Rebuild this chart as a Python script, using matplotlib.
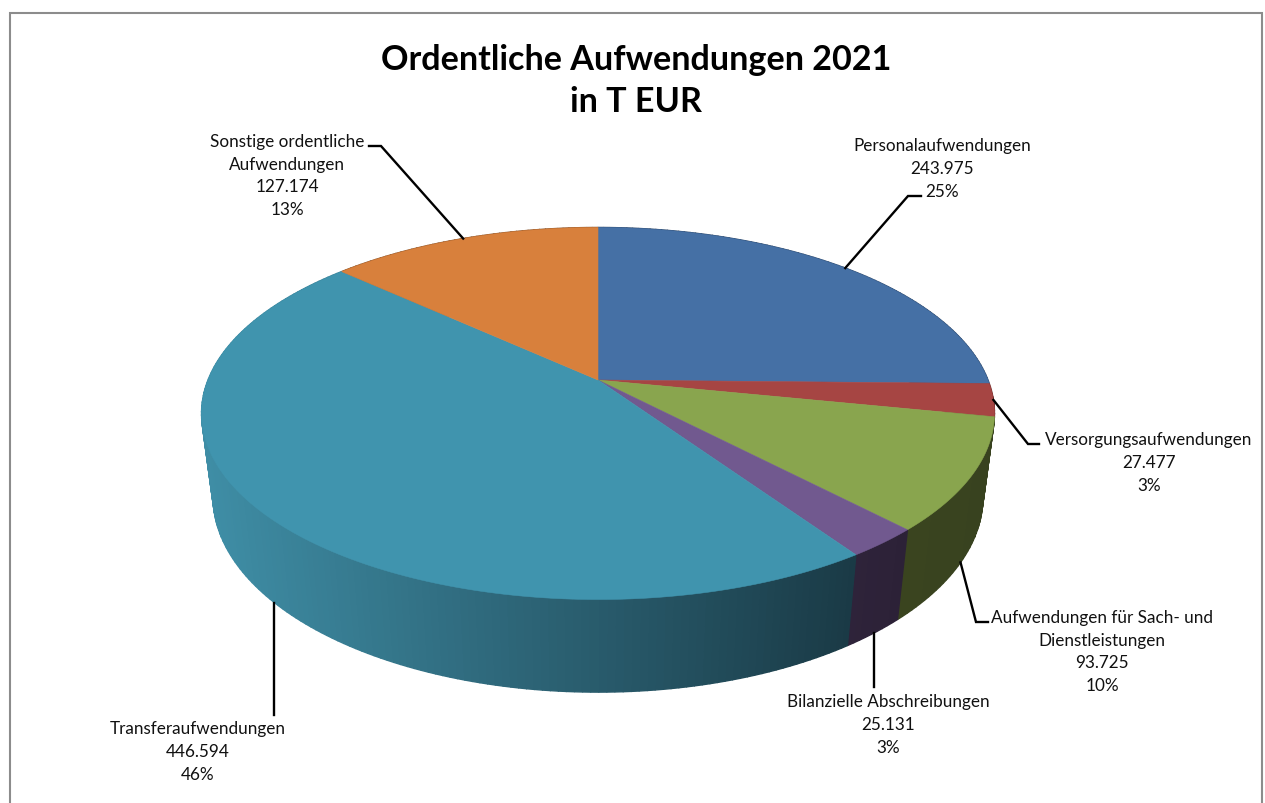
import numpy as np
import matplotlib
matplotlib.use("Agg")
import matplotlib.pyplot as plt
from matplotlib.colors import to_rgb
from matplotlib.patches import Polygon

# data
names = ["Personalaufwendungen", "Versorgungsaufwendungen",
         "Aufwendungen für Sach- und\nDienstleistungen", "Bilanzielle Abschreibungen",
         "Transferaufwendungen", "Sonstige ordentliche\nAufwendungen"]
values = [243975, 27477, 93725, 25131, 446594, 127174]
title = "Ordentliche Aufwendungen 2021\nin T EUR"

# styles
top_colors = ["#4570a5", "#a64543", "#89a54e", "#71598f", "#4094ae", "#d8803c"]
wall_left = ["#2b4566", "#672b2a", "#3a441f", "#2e233a", "#3f8ea6", "#864f25"]
wall_right = ["#2b4566", "#672b2a", "#38421f", "#2c2137", "#1a3a46", "#864f25"]
# label centre (px), knee of the leader, end of the leader, depth of the anchor
label_pos = [(942, 169), (1149, 463), (1102, 652), (888, 725), (198, 752), (287, 176)]
knees = [(908, 197), (1028, 445), (976, 623), None, None, (381, 147)]
ends = [(921, 197), (1039, 445), (988, 623), (None, 688), (None, 716), (369, 147)]
anchor_z = [0, 0, -1, -1, -1, 0]

# perspective of the pie, fitted on the picture
CX, CY = 598, 381
A, C, F = 390, 180, 85
B, E = 0.18, 0.029


def project(angle, r=1.0, z=0.0):  # angle clockwise from 12 o'clock, degrees
    u = r * np.sin(np.radians(angle))
    v = r * np.cos(np.radians(angle))
    w = 1 + B * v - E * z
    return CX + A * u / w, CY - (C * v + F * z) / w


fig = plt.figure(figsize=(12.65, 8.04), dpi=100)
ax = fig.add_axes([0, 0, 1, 1])
ax.set_xlim(0, 1265)
ax.set_ylim(804, 0)
ax.axis("off")

plt.rcParams["font.family"] = ["Lato", "DejaVu Sans"]

total = sum(values)
stops = np.concatenate([[0], np.cumsum(values) / total * 360])
mids = (stops[:-1] + stops[1:]) / 2

# walls first, back to front
quads = []
for i in range(len(values)):
    angles = np.linspace(stops[i], stops[i + 1], max(2, int(stops[i + 1] - stops[i]) + 1))
    x_all = [project(a)[0] for a in angles]
    lo, hi = min(x_all), max(x_all)
    for a0, a1 in zip(angles[:-1], angles[1:]):
        xt0, yt0 = project(a0)
        xt1, yt1 = project(a1)
        xb0, yb0 = project(a0, z=-1)
        xb1, yb1 = project(a1, z=-1)
        t = ((xt0 + xt1) / 2 - lo) / max(hi - lo, 1)
        col = (1 - t) * np.array(to_rgb(wall_left[i])) + t * np.array(to_rgb(wall_right[i]))
        quads.append((np.cos(np.radians(a0)), [(xt0, yt0), (xt1, yt1), (xb1, yb1), (xb0, yb0)], col))
for _, pts, col in sorted(quads, key=lambda q: -q[0]):
    ax.add_patch(Polygon(pts, closed=True, facecolor=col, edgecolor=col, linewidth=1.0))

# top of the pie
for i in range(len(values)):
    angles = np.linspace(stops[i], stops[i + 1], max(3, int((stops[i + 1] - stops[i]) * 2)))
    pts = [(CX, CY)] + [project(a) for a in angles]
    ax.add_patch(Polygon(pts, closed=True, facecolor=top_colors[i], edgecolor=top_colors[i], linewidth=0.4))

# leaders and labels
for i in range(len(values)):
    pts = [project(mids[i], z=anchor_z[i])]
    if knees[i] is not None:
        pts.append(knees[i])
    end_x = pts[0][0] if ends[i][0] is None else ends[i][0]  # straight down when no x given
    pts.append((end_x, ends[i][1]))
    ax.plot([p[0] for p in pts], [p[1] for p in pts], color="black", lw=1.7, solid_joinstyle="miter")
    val = f"{values[i]:,}".replace(",", ".")
    pct = round(values[i] / total * 100)
    ax.text(label_pos[i][0], label_pos[i][1], f"{names[i]}\n{val}\n{pct}%", ha="center", va="center",
            fontsize=12.35, linespacing=1.52, color="#111111")

ax.text(636, 81, title, ha="center", va="center", fontsize=24.6, fontweight="bold",
        linespacing=1.38, color="black")

# frame, open at the bottom
ax.plot([10, 10, 1262, 1262], [804, 14, 14, 804], color="#8c8c8c", lw=1.5, solid_joinstyle="miter")

fig.savefig("out.png", dpi=100)
